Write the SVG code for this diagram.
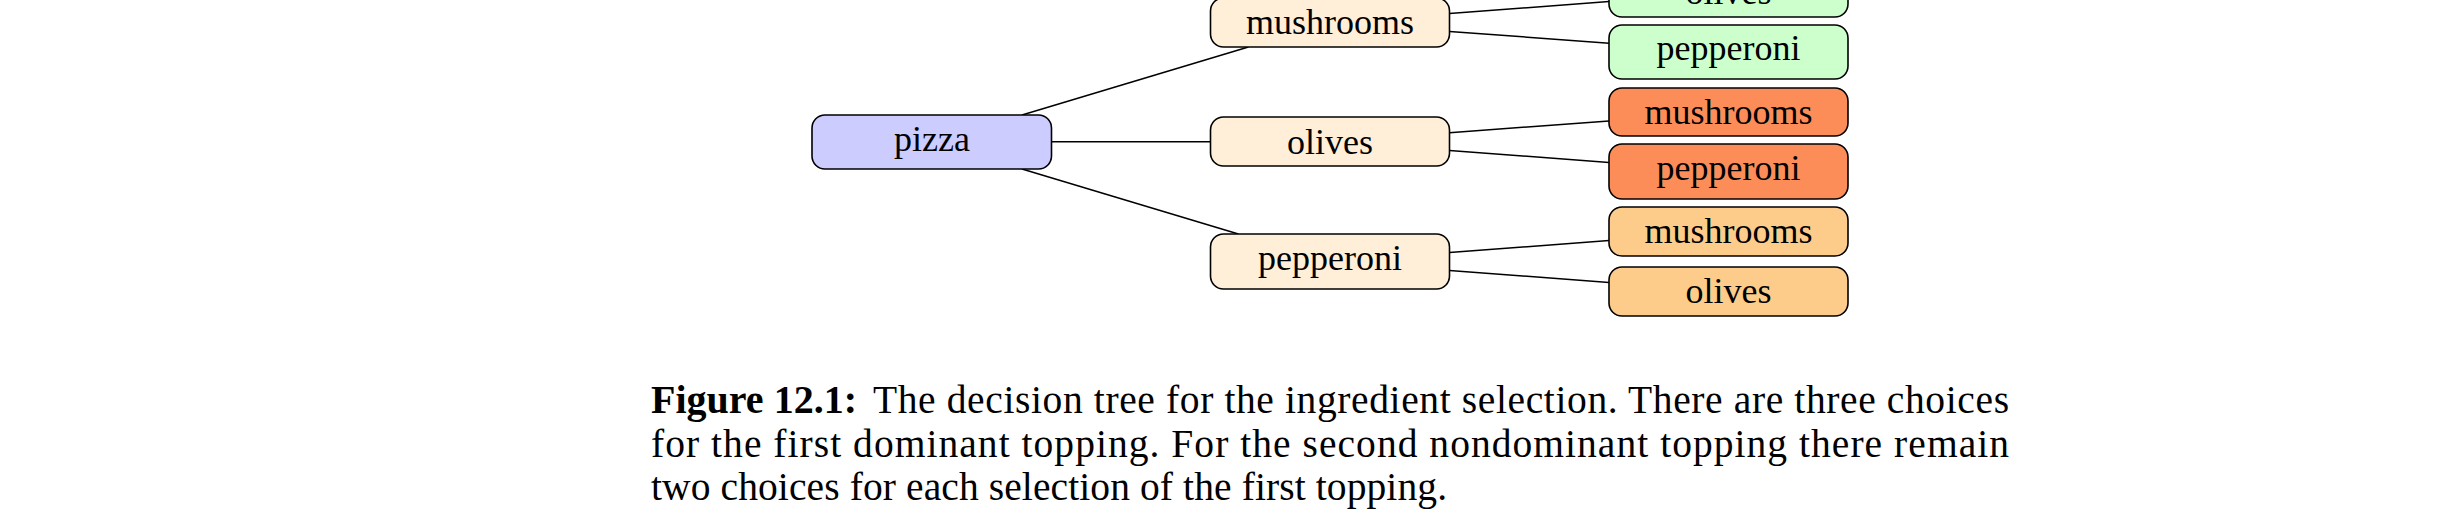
<svg xmlns="http://www.w3.org/2000/svg" width="2448" height="528" viewBox="0 0 2448 528">
<style>
.box{stroke:#000;stroke-width:1.6}
.lbl{font-family:"Liberation Serif","Times New Roman",serif;font-size:36px;text-anchor:middle;fill:#000}
.cap{font-family:"Liberation Serif","Times New Roman",serif;font-size:39.5px;fill:#000}
.edge{stroke:#000;stroke-width:1.5;fill:none}
.root{fill:#CCCCFF}
.l1{fill:#FFEFD9}
.g{fill:#CCFFCC}
.o{fill:#FC8D59}
.lo{fill:#FDCC8A}
</style>
<rect width="2448" height="528" fill="#fff"/>
<g id="connectors">
<line class="edge" x1="1022" y1="115" x2="1248.4" y2="47"/>
<line class="edge" x1="1051.5" y1="141.7" x2="1210.5" y2="141.7"/>
<line class="edge" x1="1022" y1="169" x2="1238.4" y2="234"/>
<line class="edge" x1="1449.5" y1="13.5" x2="1609" y2="1.5"/>
<line class="edge" x1="1449.5" y1="31.4" x2="1609" y2="43.2"/>
<line class="edge" x1="1449.5" y1="132.7" x2="1609" y2="120.9"/>
<line class="edge" x1="1449.5" y1="150.5" x2="1609" y2="162.5"/>
<line class="edge" x1="1449.5" y1="252.5" x2="1609" y2="240.5"/>
<line class="edge" x1="1449.5" y1="270.5" x2="1609" y2="282.5"/>
</g>
<g id="pizza"><rect class="box root" x="812" y="115" width="239.5" height="54" rx="13"/><text class="lbl" x="932" y="151">pizza</text></g>
<g id="mushrooms1"><rect class="box l1" x="1210.5" y="-2" width="239" height="49" rx="13"/><text class="lbl" x="1330" y="34">mushrooms</text></g>
<g id="olives1"><rect class="box l1" x="1210.5" y="117" width="239" height="49" rx="13"/><text class="lbl" x="1330" y="154">olives</text></g>
<g id="pepperoni1"><rect class="box l1" x="1210.5" y="234" width="239" height="55" rx="13"/><text class="lbl" x="1330" y="270">pepperoni</text></g>
<g id="mushrooms-olives"><rect class="box g" x="1609" y="-32" width="239" height="49" rx="13"/><text class="lbl" x="1728.5" y="4">olives</text></g>
<g id="mushrooms-pepperoni"><rect class="box g" x="1609" y="25" width="239" height="54" rx="13"/><text class="lbl" x="1728.5" y="60">pepperoni</text></g>
<g id="olives-mushrooms"><rect class="box o" x="1609" y="88" width="239" height="48" rx="13"/><text class="lbl" x="1728.5" y="124">mushrooms</text></g>
<g id="olives-pepperoni"><rect class="box o" x="1609" y="144" width="239" height="55" rx="13"/><text class="lbl" x="1728.5" y="179.5">pepperoni</text></g>
<g id="pepperoni-mushrooms"><rect class="box lo" x="1609" y="207" width="239" height="49" rx="13"/><text class="lbl" x="1728.5" y="243">mushrooms</text></g>
<g id="pepperoni-olives"><rect class="box lo" x="1609" y="267" width="239" height="49" rx="13"/><text class="lbl" x="1728.5" y="302.5">olives</text></g>
<g id="caption">
<text class="cap" x="651" y="413" font-weight="bold" textLength="206" lengthAdjust="spacingAndGlyphs">Figure 12.1:</text>
<text class="cap" x="873" y="413" textLength="1136" lengthAdjust="spacing">The decision tree for the ingredient selection. There are three choices</text>
<text class="cap" x="651" y="456.5" textLength="1358" lengthAdjust="spacing">for the first dominant topping. For the second nondominant topping there remain</text>
<text class="cap" x="651" y="500" textLength="796" lengthAdjust="spacing">two choices for each selection of the first topping.</text>
</g>
</svg>
